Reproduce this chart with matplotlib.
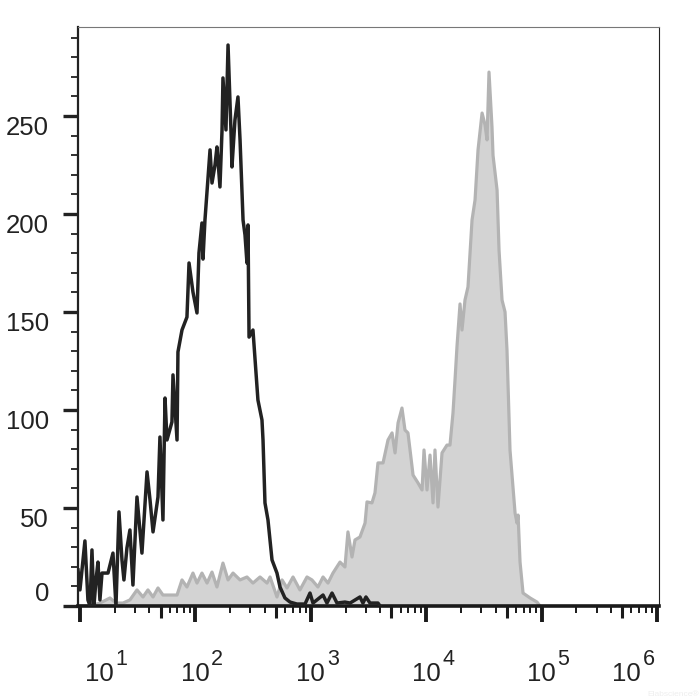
import matplotlib
matplotlib.use('Agg')
import matplotlib.pyplot as plt
import matplotlib.transforms as mtransforms
from matplotlib.ticker import FixedLocator, LogLocator, MultipleLocator, NullFormatter, NullLocator
import numpy as np

plt.rcParams['font.family'] = ['Liberation Sans', 'DejaVu Sans']

# controle (linha preta): log10 da intensidade e contagens
ctrl_log = [0.983, 1.000, 1.043, 1.069, 1.087, 1.104, 1.121, 1.139, 1.156, 1.173,
            1.191, 1.243, 1.286, 1.312, 1.338, 1.364, 1.381, 1.407, 1.433, 1.459,
            1.494, 1.537, 1.581, 1.607, 1.633, 1.676, 1.693, 1.719, 1.737, 1.754,
            1.797, 1.806, 1.841, 1.849, 1.884, 1.927, 1.945, 1.979, 2.014, 2.031,
            2.057, 2.066, 2.083, 2.127, 2.144, 2.170, 2.187, 2.213, 2.231, 2.239,
            2.265, 2.283, 2.309, 2.317, 2.343, 2.369, 2.387, 2.413, 2.430, 2.447,
            2.456, 2.465, 2.499, 2.542, 2.577, 2.586, 2.603, 2.629, 2.664, 2.707,
            2.733, 2.776, 2.820, 2.880, 2.950, 2.993, 3.019, 3.106, 3.140, 3.184,
            3.227, 3.296, 3.340, 3.426, 3.452, 3.478, 3.513, 3.582, 3.600]
ctrl_count = [18.4, 8.2, 33.2, 3.1, 0, 28.6, 0, 13.3, 22.4, 3.1,
              16.8, 16.8, 27.0, 0, 48.0, 23.5, 13.3, 29.6, 38.8, 10.7,
              55.6, 27.0, 68.4, 54.1, 37.8, 55.6, 86.2, 43.9, 106.1, 84.7,
              93.9, 117.9, 84.7, 129.6, 140.8, 147.4, 175.0, 160.2, 149.5, 180.1,
              195.4, 177.0, 196.9, 232.7, 215.8, 225.0, 234.2, 213.8, 242.9, 269.4,
              242.9, 286.2, 241.3, 224.0, 248.0, 259.7, 237.8, 196.9, 189.3, 175.0,
              194.4, 137.2, 140.8, 105.1, 94.9, 84.7, 52.6, 43.9, 23.5, 16.8,
              9.7, 4.1, 2.0, 1.0, 1.0, 6.6, 1.5, 5.6, 1.5, 6.6,
              1.5, 2.0, 1.5, 4.6, 1.5, 4.6, 1.5, 1.5, 0]

# amostra marcada (preenchimento cinza)
stain_log = [0.983, 1.087, 1.173, 1.260, 1.312, 1.373, 1.433, 1.494, 1.546, 1.589,
             1.633, 1.676, 1.719, 1.841, 1.884, 1.927, 1.979, 2.014, 2.057, 2.101,
             2.144, 2.187, 2.239, 2.283, 2.326, 2.387, 2.447, 2.499, 2.560, 2.621,
             2.647, 2.707, 2.751, 2.794, 2.846, 2.906, 2.967, 3.010, 3.062, 3.106,
             3.149, 3.192, 3.253, 3.296, 3.322, 3.357, 3.383, 3.426, 3.470, 3.487,
             3.530, 3.556, 3.582, 3.626, 3.669, 3.704, 3.730, 3.756, 3.790, 3.816,
             3.842, 3.860, 3.886, 3.929, 3.964, 3.981, 4.007, 4.033, 4.059, 4.076,
             4.102, 4.137, 4.180, 4.206, 4.232, 4.250, 4.267, 4.293, 4.310, 4.336,
             4.362, 4.397, 4.423, 4.449, 4.484, 4.510, 4.527, 4.544, 4.570, 4.579,
             4.614, 4.631, 4.657, 4.683, 4.700, 4.726, 4.770, 4.787, 4.796, 4.813,
             4.839, 4.900, 4.960, 4.986]
stain_count = [0, 0, 1.5, 4.1, 1.5, 1.5, 3.1, 8.2, 4.6, 8.2,
               4.6, 9.2, 5.6, 5.6, 13.3, 9.7, 16.8, 11.7, 16.8, 11.7,
               17.3, 9.7, 21.9, 13.3, 16.8, 13.3, 14.8, 11.7, 14.8, 11.7,
               14.8, 4.6, 13.3, 9.2, 14.8, 8.2, 14.8, 13.3, 9.7, 14.8,
               11.7, 16.8, 22.4, 19.9, 37.8, 25.0, 33.7, 35.2, 42.3, 53.1,
               52.6, 57.7, 73.0, 73.0, 84.7, 88.3, 78.1, 93.4, 101.0, 89.8,
               88.3, 79.6, 66.8, 62.8, 59.2, 79.6, 59.2, 77.0, 52.6, 79.6,
               50.5, 78.1, 82.1, 82.1, 98.5, 115.8, 132.7, 154.1, 140.8, 156.1,
               162.8, 196.9, 207.1, 232.7, 251.5, 245.4, 237.8, 272.4, 244.4, 229.9,
               212.2, 181.6, 156.1, 150.0, 130.6, 79.6, 47.4, 42.3, 46.4, 22.4,
               6.6, 4.1, 2.0, 0]

y_ticks = [0, 50, 100, 150, 200, 250]
x_ticks = [1e1, 1e2, 1e3, 1e4, 1e5, 1e6]
x_exponents = ['1', '2', '3', '4', '5', '6']
mid_ticks = [5e1, 5e2, 5e3, 5e4, 5e5]

ctrl_x = 10 ** np.array(ctrl_log)
stain_x = 10 ** np.array(stain_log)

fig = plt.figure(figsize=(7, 7), dpi=100)
ax = fig.add_axes([78 / 700, 94 / 700, 581 / 700, 579 / 700])

ax.fill_between(stain_x, stain_count, 0, color='#d3d3d3', lw=0, zorder=1)
ax.plot(stain_x, stain_count, color='#b3b3b3', lw=2.3, zorder=2)
ax.plot(ctrl_x, ctrl_count, color='#222222', lw=2.5, zorder=3)

ax.set_xscale('log')
ax.set_xlim(10 ** 0.983, 10 ** 6.017)
ax.set_ylim(0, 295.4)

ax.xaxis.set_major_locator(FixedLocator(x_ticks))
ax.set_xticklabels(['10'] * len(x_ticks))
ax.xaxis.set_minor_locator(LogLocator(base=10, subs=(2, 3, 4, 6, 7, 8, 9)))
ax.xaxis.set_minor_formatter(NullFormatter())
ax.yaxis.set_major_locator(FixedLocator(y_ticks))
ax.set_yticklabels([str(v) for v in y_ticks])
ax.yaxis.set_minor_locator(MultipleLocator(10))

ax.tick_params(axis='y', which='major', length=10.8, width=2.4, direction='out',
               labelsize=18.5, pad=10, color='#222222', labelcolor='#222222')
ax.tick_params(axis='y', which='minor', length=5, width=1.3, direction='out', color='#222222')
ax.tick_params(axis='x', which='major', length=11.5, width=2.8, direction='out',
               labelsize=18.5, pad=29, color='#1a1a1a', labelcolor='#222222')
ax.tick_params(axis='x', which='minor', length=5, width=1.4, direction='out', color='#1a1a1a')

# ticks intermediarios (5 x 10^n) um pouco maiores
sec = ax.secondary_xaxis('bottom')
sec.set_xticks(mid_ticks)
sec.set_xticklabels([''] * len(mid_ticks))
sec.xaxis.set_minor_locator(NullLocator())
sec.tick_params(axis='x', which='major', length=8.6, width=2.2, direction='out', color='#1a1a1a')
sec.spines['bottom'].set_visible(False)

ax.spines['bottom'].set_linewidth(2.6)
ax.spines['bottom'].set_color('#1a1a1a')
ax.spines['left'].set_linewidth(1.6)
ax.spines['left'].set_color('#222222')
ax.spines['top'].set_linewidth(0.8)
ax.spines['top'].set_color('#777777')
ax.spines['right'].set_linewidth(0.8)
ax.spines['right'].set_color('#222222')

# deslocamento horizontal dos rotulos "10" (pontos)
x_shift = [14, 0, 0, 0, 0, -22]
for lab, dx in zip(ax.get_xticklabels(), x_shift):
    lab.set_transform(lab.get_transform() + mtransforms.ScaledTranslation(dx / 72, 0, fig.dpi_scale_trans))
# expoentes das potencias de dez
for tick, exp, dx in zip(x_ticks, x_exponents, x_shift):
    ax.annotate(exp, xy=(tick, 0), xycoords=ax.get_xaxis_transform(),
                xytext=(dx + 11.5, -42.5), textcoords='offset points',
                ha='left', va='baseline', fontsize=15.5, color='#222222',
                annotation_clip=False)
for lab, v in zip(ax.get_yticklabels(), y_ticks):
    lab.set_va('bottom' if v == 0 else 'top')

fig.text(0.925, 0.006, 'Elabscience\u00ae', color='#eeeeee', fontsize=6)

fig.savefig('out.png', dpi=100)
